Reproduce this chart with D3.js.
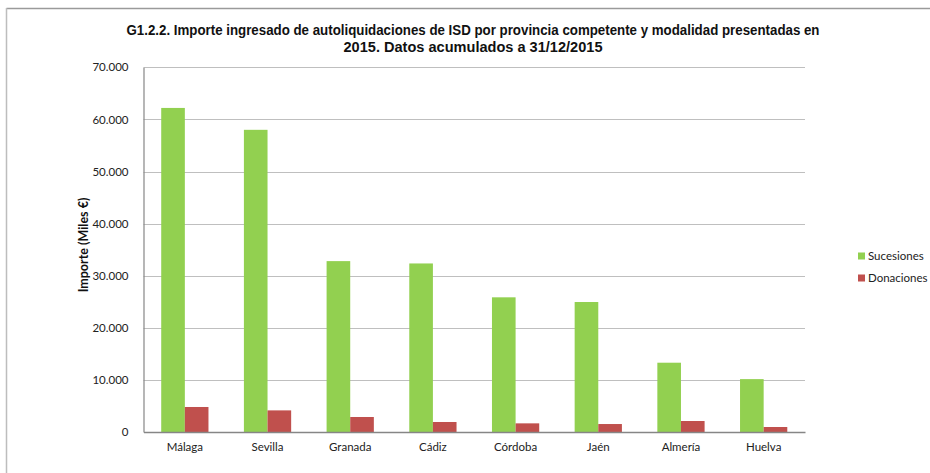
<!DOCTYPE html>
<html>
<head>
<meta charset="utf-8">
<script src="https://cdn.jsdelivr.net/npm/d3@7"></script>
<style>
html,body{margin:0;padding:0;background:#fff;}
svg{display:block;}
</style>
</head>
<body>
<svg id="chart" width="930" height="473"></svg>
<script>
const categories = ["Málaga","Sevilla","Granada","Cádiz","Córdoba","Jaén","Almería","Huelva"];
const seriesNames = ["Sucesiones","Donaciones"];
const sucesiones = [62200, 58000, 32800, 32350, 25850, 24950, 13300, 10150];
const donaciones = [4800, 4150, 2880, 1920, 1660, 1530, 2110, 960];
const yTicks = [0,10000,20000,30000,40000,50000,60000,70000];
const colors = ["#92D050","#C0504D"];
const titleLines = ["G1.2.2. Importe ingresado de autoliquidaciones de ISD por provincia competente y modalidad presentadas en","2015. Datos acumulados a 31/12/2015"];
const yTitle = "Importe (Miles €)";

const svg = d3.select("#chart");
const m = {left:143.5, right:805, top:67.3, bottom:432};
const font = "Lato, 'Liberation Sans', sans-serif";

// outer frame
svg.append("line").attr("x1",6.5).attr("x2",930).attr("y1",8.5).attr("y2",8.5).attr("stroke","#9a9a9a").attr("stroke-width",1.5);
svg.append("line").attr("x1",6.5).attr("x2",6.5).attr("y1",8).attr("y2",473).attr("stroke","#bdbdbd").attr("stroke-width",1.5);

const x0 = d3.scaleBand().domain(categories).range([m.left,m.right]).paddingInner(0).paddingOuter(0);
const y = d3.scaleLinear().domain([0,70000]).range([m.bottom,m.top]);
const bw = x0.bandwidth()/3.5;
const x1 = d3.scaleBand().domain(seriesNames).range([0.75*bw, 2.75*bw]).padding(0);

// gridlines
svg.append("g").selectAll("line").data(yTicks.filter(d=>d>0)).join("line")
  .attr("x1",m.left).attr("x2",m.right)
  .attr("y1",d=>Math.round(y(d))+0.5).attr("y2",d=>Math.round(y(d))+0.5)
  .attr("stroke","#bfbfbf").attr("stroke-width",1.2);

// bars
const data = categories.map((c,i)=>({cat:c, vals:[{s:seriesNames[0],v:sucesiones[i]},{s:seriesNames[1],v:donaciones[i]}]}));
const g = svg.append("g");
g.selectAll("g").data(data).join("g")
  .attr("transform",d=>`translate(${x0(d.cat)},0)`)
  .selectAll("rect").data(d=>d.vals).join("rect")
  .attr("x",d=>x1(d.s)).attr("width",x1.bandwidth())
  .attr("y",d=>y(d.v)).attr("height",d=>y(0)-y(d.v))
  .attr("fill",(d,i)=>colors[i]);

// y axis
const yAxis = d3.axisLeft(y).tickValues(yTicks).tickSize(0).tickPadding(15)
  .tickFormat(d=>d3.format(",")(d).replace(/,/g,"."));
const ya = svg.append("g").attr("transform",`translate(${m.left},0)`).call(yAxis);
ya.select(".domain").attr("stroke","#868686").attr("stroke-width",1.2);
ya.selectAll("text").attr("font-family",font).attr("font-size",11.5).attr("fill","#222");

// x axis
const xAxis = d3.axisBottom(x0).tickSize(0).tickPadding(11);
const xa = svg.append("g").attr("transform",`translate(0,${m.bottom})`).call(xAxis);
xa.select(".domain").attr("stroke","#868686").attr("stroke-width",1.5);
xa.selectAll("text").attr("font-family",font).attr("font-size",11.5).attr("fill","#222");

// title (condensed bold)
const titleWidths = [693, 259];
svg.append("g").selectAll("text").data(titleLines).join("text")
  .attr("x",473).attr("y",(d,i)=>35+i*17)
  .attr("text-anchor","middle")
  .attr("font-family","'Liberation Sans Narrow', 'Arial Narrow', 'Liberation Sans', sans-serif")
  .attr("font-weight","bold").attr("font-size",14.5).attr("fill","#111")
  .attr("textLength",(d,i)=>titleWidths[i]).attr("lengthAdjust","spacingAndGlyphs")
  .text(d=>d);

// y title
svg.append("text").attr("transform",`translate(88,245) rotate(-90)`)
  .attr("text-anchor","middle").attr("font-family",font).attr("font-weight","bold")
  .attr("font-size",12.5).attr("fill","#111").text(yTitle);

// legend
const lg = svg.append("g").selectAll("g").data(seriesNames).join("g")
  .attr("transform",(d,i)=>`translate(858,${256+i*22})`);
lg.append("rect").attr("x",0).attr("y",-3.5).attr("width",7).attr("height",7).attr("fill",(d,i)=>colors[i]);
lg.append("text").attr("x",10).attr("y",4).attr("font-family",font).attr("font-size",11.5).attr("fill","#222").text(d=>d);
</script>
</body>
</html>
